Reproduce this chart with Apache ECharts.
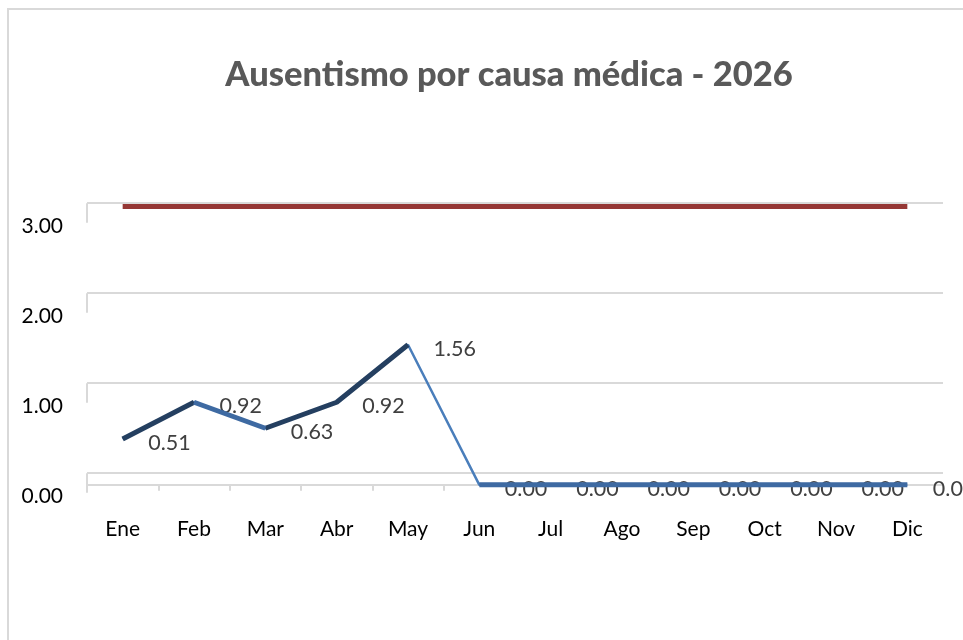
<!DOCTYPE html>
<html>
<head>
<meta charset="utf-8">
<script src="https://cdn.jsdelivr.net/npm/echarts@6/dist/echarts.min.js"></script>
<style>
html,body{margin:0;padding:0;background:#fff;}
#chart{width:963px;height:640px;}
</style>
</head>
<body>
<div id="chart"></div>
<script>
var months = ['Ene','Feb','Mar','Abr','May','Jun','Jul','Ago','Sep','Oct','Nov','Dic'];
var values = [0.51, 0.92, 0.63, 0.92, 1.56, 0, 0, 0, 0, 0, 0, 0];
var meta = [3.1, 3.1, 3.1, 3.1, 3.1, 3.1, 3.1, 3.1, 3.1, 3.1, 3.1, 3.1];
var gridTicks = [0, 1, 2, 3];

function seg(a, b) {
  return values.map(function (v, i) { return (i >= a && i <= b) ? v : null; });
}

var FONT = 'Lato';
var chart = echarts.init(document.getElementById('chart'));
var option = {
  backgroundColor: '#ffffff',
  animation: false,
  graphic: [{
    type: 'rect', silent: true,
    shape: { x: 8, y: 9, width: 1000, height: 700 },
    style: { fill: 'none', stroke: '#D9D9D9', lineWidth: 2 }
  }],
  title: {
    text: 'Ausentismo por causa médica - 2026',
    left: 504, top: 52, textAlign: 'center',
    textStyle: { fontFamily: FONT, fontSize: 34.5, fontWeight: 900, color: '#595959' }
  },
  grid: [
    { left: 87, right: 20, top: 203, bottom: 167 },
    { left: 87, right: 20, top: 203, bottom: 148 }
  ],
  xAxis: [
    { gridIndex: 0, type: 'category', data: months, show: false },
    { gridIndex: 1, type: 'category', data: months, boundaryGap: true,
      axisLine: { show: true, lineStyle: { color: '#D9D9D9', width: 2 } },
      axisTick: { show: true, length: 6, lineStyle: { color: '#D9D9D9', width: 2 } },
      axisLabel: { margin: 27, fontFamily: FONT, fontSize: 21, color: '#000000' }
    }
  ],
  yAxis: [
    { gridIndex: 0, type: 'value', min: gridTicks[0], max: gridTicks[gridTicks.length - 1], interval: 1,
      axisLine: { show: false }, axisTick: { show: false },
      splitLine: { show: true, lineStyle: { color: '#D9D9D9', width: 2 } },
      axisLabel: { margin: 24, fontFamily: FONT, fontSize: 21, color: '#000000',
        verticalAlign: 'top', padding: [13, 0, 0, 0],
        formatter: function (v) { return v.toFixed(2); } }
    },
    { gridIndex: 1, type: 'value', min: -0.08, max: 3.14,
      axisLine: { show: true, lineStyle: { color: '#D9D9D9', width: 2, type: [18, 72] } },
      axisTick: { show: false }, splitLine: { show: false }, axisLabel: { show: false }
    }
  ],
  series: [
    { name: 'Meta', type: 'line', xAxisIndex: 1, yAxisIndex: 1, data: meta,
      symbol: 'none', lineStyle: { color: '#953735', width: 5 }, z: 2 },
    { name: 'base', type: 'line', xAxisIndex: 1, yAxisIndex: 1, data: values,
      symbol: 'circle', symbolSize: 1, showSymbol: true,
      itemStyle: { color: 'rgba(0,0,0,0)' },
      lineStyle: { color: '#4A7EBB', width: 2.5 }, z: 3,
      label: { show: true, position: 'right', distance: 25, offset: [0, 4],
        fontFamily: FONT, fontSize: 21.5, color: '#404040',
        formatter: function (p) { return Number(p.value).toFixed(2); } } },
    { type: 'line', xAxisIndex: 1, yAxisIndex: 1, data: seg(0, 1), symbol: 'none',
      lineStyle: { color: '#243F60', width: 5 }, z: 4 },
    { type: 'line', xAxisIndex: 1, yAxisIndex: 1, data: seg(2, 4), symbol: 'none',
      lineStyle: { color: '#243F60', width: 5 }, z: 4 },
    { type: 'line', xAxisIndex: 1, yAxisIndex: 1, data: seg(1, 2), symbol: 'none',
      lineStyle: { color: '#3E6AA2', width: 5 }, z: 4 },
    { type: 'line', xAxisIndex: 1, yAxisIndex: 1, data: seg(5, 11), symbol: 'none',
      lineStyle: { color: '#3E6AA2', width: 5 }, z: 4 }
  ]
};
chart.setOption(option);
</script>
</body>
</html>
